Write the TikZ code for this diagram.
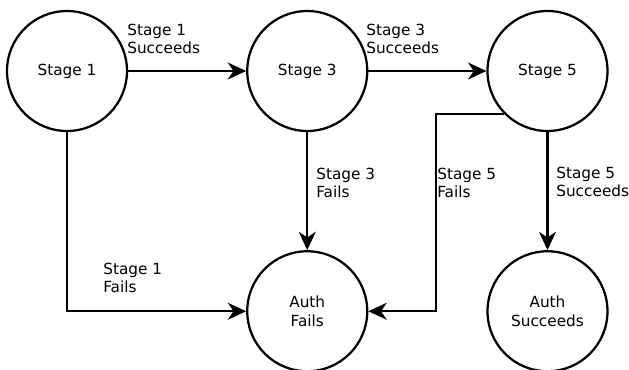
\documentclass[tikz,border=0pt]{standalone}
\usepackage{fontspec}
\setmainfont{DejaVu Sans}
\usetikzlibrary{positioning,arrows.meta}
\begin{document}
\begin{tikzpicture}[scale=1,
  font=\fontsize{10.9}{13.2}\selectfont,
  state/.style={draw, circle, line width=1.6pt, minimum size=3cm, inner sep=0pt, align=center},
  flow/.style={-{Stealth[length=13pt,width=12pt,inset=4pt]}, line width=1.6pt},
  lbl/.style={anchor=west, inner sep=0pt, align=left},
  node distance=2.95cm]
\useasboundingbox (0,0) rectangle (15.725,9.225);
\node[state] (s1) at (1.675,7.45) {Stage 1};
\node[state, right=of s1] (s3) {Stage 3};
\node[state, right=of s3] (s5) {Stage 5};
\node[state, below=of s3] (af) {Auth\\Fails};
\node[state, below=of s5] (as) {Auth\\Succeeds};
\draw[flow] (s1) -- (s3);
\draw[flow] (s3) -- (s5);
\draw[flow] (s3) -- (af);
\draw[flow] (s5) -- (as);
\draw[flow] (s1.south) |- (af.west);
\draw[flow] (s5.225) -- ++(-1.715,0) |- (af.east);
\node[lbl] (l1s) at (3.175,8.25) {Stage 1\\Succeeds};
\node[lbl] (l3s) at (9.15,8.25) {Stage 3\\Succeeds};
\node[lbl] (l3f) at (7.9,4.65) {Stage 3\\Fails};
\node[lbl] (l5f) at (10.925,4.65) {Stage 5\\Fails};
\node[lbl] (l5s) at (13.9,4.675) {Stage 5\\Succeeds};
\node[lbl] (l1f) at (2.575,2.275) {Stage 1\\Fails};
\end{tikzpicture}
\end{document}
